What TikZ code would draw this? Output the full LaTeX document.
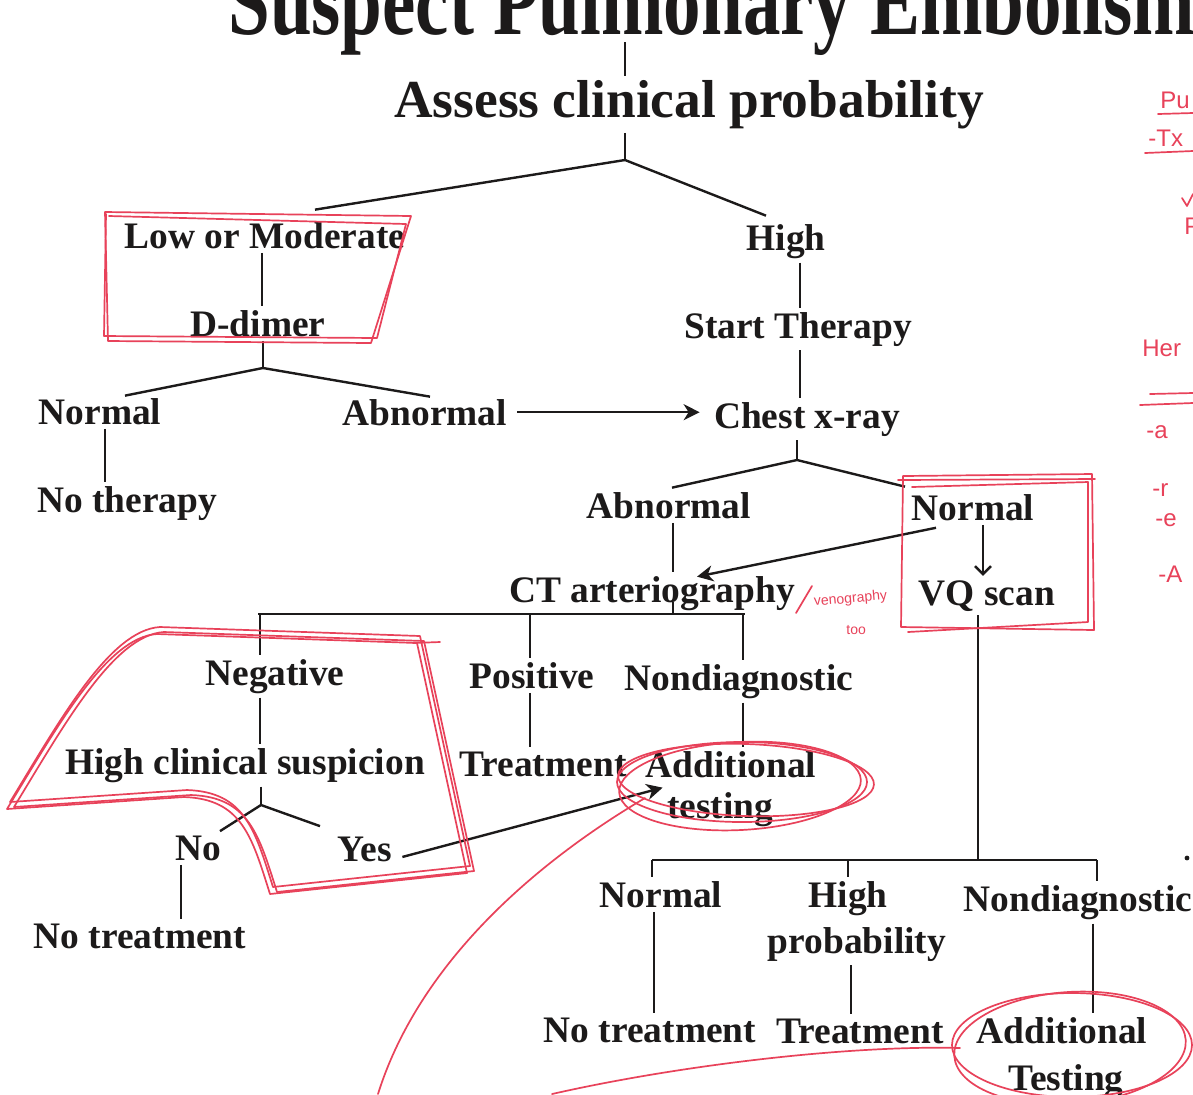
\documentclass[tikz,border=0pt]{standalone}
\usepackage{fontspec}
\setmainfont{Liberation Serif}
\newfontfamily\handfont{Liberation Sans}
\usetikzlibrary{arrows.meta,calc}
\definecolor{ink}{RGB}{28,26,26}
\definecolor{pen}{RGB}{232,66,90}
\tikzset{
  lbl/.style={font=\bfseries\fontsize{18.7}{22}\selectfont, text=ink, inner sep=2pt, anchor=base},
  hdr/.style={font=\bfseries\fontsize{26.7}{30}\selectfont, text=ink, inner sep=2pt, anchor=base},
  ttl/.style={font=\bfseries\fontsize{37.5}{40}\selectfont, text=ink, inner sep=0pt, anchor=base west},
  link/.style={draw=ink, line width=1.2pt},
  arr/.style={link, -{Stealth[length=8pt,width=8pt,inset=2.5pt]}},
  barb/.style={link, -{Straight Barb[length=4pt,width=8pt]}},
  redpen/.style={draw=pen, line width=0.85pt, line join=round, line cap=round},
  hand/.style={text=pen, font=\handfont\fontsize{12}{13}\selectfont, inner sep=0pt, anchor=base west},
  handsm/.style={text=pen, font=\handfont\fontsize{7}{8}\selectfont, inner sep=0pt, anchor=base west},
}
\begin{document}
\begin{tikzpicture}[x=0.5pt,y=-0.5pt]
\useasboundingbox (0,0) rectangle (1193,1094);
\clip (0,0) rectangle (1193,1094);
\fill[white] (0,0) rectangle (1193,1094);

% ---------- text nodes ----------
\node[ttl] (title) at (228,34) {\scalebox{1}[1.3]{Suspect Pulmonary Embolism}};
\node[hdr] (assess) at (689,117) {Assess clinical probability};
\node[lbl] (low) at (265,248) {Low or Moderate};
\node[lbl] (ddim) at (258,336) {D-dimer};
\node[lbl] (high) at (786,250) {High};
\node[lbl] (start) at (798,338) {Start Therapy};
\node[lbl] (normL) at (100,424) {Normal};
\node[lbl] (abnL) at (425,425) {Abnormal};
\node[lbl] (chest) at (807,428) {Chest x-ray};
\node[lbl] (noTher) at (127,512) {No therapy};
\node[lbl] (abnM) at (669,518) {Abnormal};
\node[lbl] (normR) at (973,520) {Normal};
\node[lbl] (ct) at (652,602) {CT arteriography};
\node[lbl] (vq) at (987,605) {VQ scan};
\node[lbl] (neg) at (275,685) {Negative};
\node[lbl] (pos) at (532,688) {Positive};
\node[lbl] (nd) at (739,690) {Nondiagnostic};
\node[lbl] (hcs) at (245,774) {High clinical suspicion};
\node[lbl] (treat) at (543,776) {Treatment};
\node[lbl] (addA) at (731,777) {Additional};
\node[lbl] (addB) at (720,818) {testing};
\node[lbl] (no) at (198,860) {No};
\node[lbl] (yes) at (365,861) {Yes};
\node[lbl] (noTrL) at (140,948) {No treatment};
\node[lbl] (normB) at (661,907) {Normal};
\node[lbl] (highB) at (848,907) {High};
\node[lbl] (probB) at (857,953) {probability};
\node[lbl] (ndB) at (1078,911) {Nondiagnostic};
\node[lbl] (noTrB) at (650,1042) {No treatment};
\node[lbl] (trB) at (860,1043) {Treatment};
\node[lbl] (addC) at (1062,1043) {Additional};
\node[lbl] (addD) at (1066,1090) {Testing};

% ---------- connectors ----------
\coordinate (t0) at (625,42);
\coordinate (j1) at (625,160);
\draw[link] (t0) -- (t0 |- assess.north);
\draw[link] (assess.south -| j1) -- (j1);
\draw[link] (j1) -- ($(low.north)+(50,-8)$);
\draw[link] (j1) -- ($(high.north)+(-20,-4)$);

\coordinate (xa) at (262,0);
\draw[link] (xa |- low.south) -- (xa |- ddim.north);
\coordinate (j2) at (263,368);
\draw[link] (j2 |- ddim.south) -- (j2);
\draw[link] ($(normL.north)+(25,2)$) -- (j2) -- ($(abnL.north)+(5,2)$);
\coordinate (xb) at (105,0);
\draw[link] (xb |- normL.south) -- (xb |- noTher.north);
\draw[arr, shorten <=3pt, shorten >=5pt] (abnL.east) -- (abnL.east -| chest.west);

\coordinate (xc) at (800,0);
\draw[link] (xc |- high.south) -- (xc |- start.north);
\draw[link] (xc |- start.south) -- (xc |- chest.north);
\coordinate (j3) at (797,460);
\draw[link] (j3 |- chest.south) -- (j3);
\draw[link] ($(abnM.north)+(3,0)$) -- (j3) -- ($(normR.north)+(-68,-3)$);

\coordinate (xd) at (673,0);
\draw[link] (xd |- abnM.south) -- (xd |- ct.north);
\draw[arr] ($(normR.south)+(-37,3)$) -- ($(ct.north)+(45,5)$);
\coordinate (xe) at (983,0);
\draw[barb] (xe |- normR.south) -- (xe |- vq.north);

\coordinate (hL) at (258,614);
\coordinate (hR) at (745,614);
\draw[link] (hL) -- (hR);
\draw[link] (xd |- ct.base) -- (xd |- hL);
\coordinate (xf) at (260,0);
\coordinate (xg) at (530,0);
\coordinate (xh) at (743,0);
\draw[link] (xf |- hL) -- (xf |- neg.north);
\draw[link] (xg |- hL) -- (xg |- pos.north);
\draw[link] (xh |- hR) -- (xh |- nd.north);
\draw[link] (xf |- neg.south) -- (xf |- hcs.north);
\draw[link] (xg |- pos.south) -- (xg |- treat.north);
\draw[link] (xh |- nd.south) -- (xh |- addA.north);

\coordinate (j5) at (261,805);
\draw[link] (j5 |- hcs.south) -- (j5);
\draw[link] ($(no.north)+(22,0)$) -- (j5) -- ($(yes.north)+(-45,-6)$);
\coordinate (xi) at (181,0);
\draw[link] (xi |- no.south) -- (xi |- noTrL.north);
\draw[arr] ($(yes.east)+(6,8)$) -- (addB.north west);

\coordinate (j6) at (978,860);
\draw[link] (j6 |- vq.south) -- (j6);
\coordinate (gL) at (652,860);
\coordinate (gR) at (1097,860);
\draw[link] (gL) -- (gR);
\coordinate (xk) at (848,0);
\draw[link] (gL) -- (gL |- normB.north);
\draw[link] (xk |- gL) -- (xk |- highB.north);
\draw[link] (gR) -- (gR |- ndB.north);
\coordinate (xl) at (654,0);
\coordinate (xm) at (851,0);
\coordinate (xn) at (1093,0);
\draw[link] (xl |- normB.south) -- (xl |- noTrB.north);
\draw[link] (xm |- probB.south) -- (xm |- trB.north);
\draw[link] (xn |- ndB.south) -- (xn |- addC.north);
\fill[ink] (1187,858) circle (1.2pt);

% ---------- red pen annotations ----------
\draw[redpen] (105,212) -- (411,216) -- (371,343) -- (108,341) -- cycle;
\draw[redpen] (109,216) -- (406,224) -- (377,338) -- (104,336) -- (106,214);

\draw[redpen] (903,476) -- (1092,474) -- (1094,630) -- (901,627) -- cycle;
\draw[redpen] (912,487) -- (1088,482) -- (1088,622) -- (908,632);
\draw[redpen] (898,480) -- (1095,479);

\foreach \dx/\dy in {0/0, 4/5, -3/7} {
  \draw[redpen, shift={(\dx,\dy)}] (10,802) .. controls (60,720) and (110,630) .. (160,627)
     -- (420,636) -- (470,866) -- (273,887) .. controls (255,830) and (245,792) .. (187,790) -- (10,802);
}
\draw[redpen] (440,642) -- (413,643);

\draw[redpen] (742,782) ellipse [x radius=125, y radius=40];
\draw[redpen, rotate around={3:(740,786)}] (740,786) ellipse [x radius=121, y radius=44];
\draw[redpen, rotate around={-2:(746,780)}] (746,780) ellipse [x radius=128, y radius=36];

\draw[redpen] (1072,1045) ellipse [x radius=120, y radius=52];
\draw[redpen, rotate around={4:(1070,1048)}] (1070,1048) ellipse [x radius=116, y radius=56];

\draw[redpen] (645,798) .. controls (540,860) and (420,960) .. (378,1094);
\draw[redpen] (960,1048) .. controls (850,1045) and (680,1065) .. (552,1094);

% venography note
\draw[redpen] (796,613) -- (812,586);
\node[handsm, rotate=5] (veno) at (814,606) {venography};
\node[handsm] (too) at (846,634) {too};

% right margin notes (cut off)
\node[hand] (m1) at (1160,108) {Pu};
\draw[redpen] (1158,114) -- (1193,113);
\node[hand] (m2) at (1148,146) {-Tx};
\draw[redpen] (1145,153) -- (1193,151);
\draw[redpen] (1182,198) -- (1187,206) -- (1193,194);
\node[hand] (m3) at (1184,234) {P};
\node[hand] (m4) at (1142,356) {Her};
\draw[redpen] (1150,394) -- (1193,393);
\draw[redpen] (1140,405) -- (1193,403);
\node[hand] (m5) at (1146,438) {-a};
\node[hand] (m6) at (1152,496) {-r};
\node[hand] (m7) at (1155,526) {-e};
\node[hand] (m8) at (1158,582) {-A};
\end{tikzpicture}
\end{document}
